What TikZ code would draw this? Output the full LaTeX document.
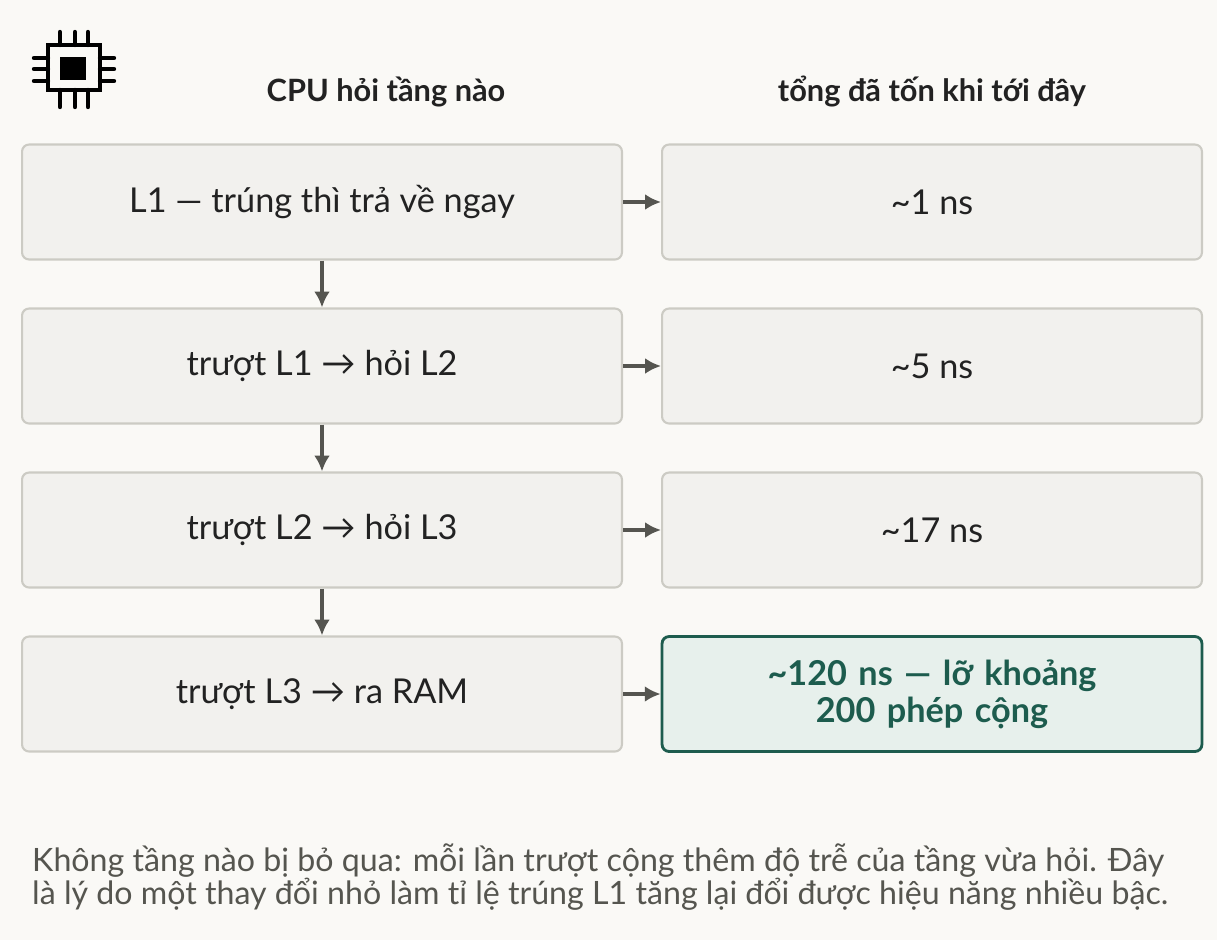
\documentclass[tikz,border=0pt]{standalone}
\usepackage{fontspec}
\setmainfont{Lato}
\usetikzlibrary{positioning,arrows.meta}
\definecolor{bgcol}{HTML}{FAF9F6}
\definecolor{boxfill}{HTML}{F2F1EE}
\definecolor{boxline}{HTML}{CCCBC4}
\definecolor{arrcol}{HTML}{555550}
\definecolor{teal}{HTML}{1D5C4E}
\definecolor{tealfill}{HTML}{E7F0EC}
\definecolor{txtcol}{HTML}{222222}
\definecolor{notecol}{HTML}{55554F}
\tikzset{
  level/.style={draw=boxline, line width=1.2pt, fill=boxfill, rounded corners=4pt,
    minimum width=12cm, minimum height=2.3cm, inner sep=0pt, text=txtcol,
    font=\fontsize{19.5}{23}\selectfont},
  cost/.style={level, minimum width=10.8cm},
  bad/.style={cost, draw=teal, line width=1.6pt, fill=tealfill, text=teal,
    text width=10cm, align=center, font=\fontsize{19.5}{21}\selectfont\bfseries},
  head/.style={font=\fontsize{17.5}{20}\selectfont\bfseries, text=txtcol},
  link/.style={draw=arrcol, line width=1.8pt, -{Latex[length=9pt,width=9pt]}},
  pin/.style={line width=2.5pt, line cap=round}
}
\begin{document}
\begin{tikzpicture}[x=0.02cm,y=-0.02cm]
\fill[bgcol] (0,0) rectangle (1217,940);
% chip icon
\draw[line width=2.5pt] (48,45) rectangle (100,90);
\fill (60,57) rectangle (86,80);
\foreach \p in {60,75,88} {
  \draw[pin] (\p,32) -- (\p,45);
  \draw[pin] (\p,90) -- (\p,107);
}
\foreach \p in {58,69,81} {
  \draw[pin] (34,\p) -- (48,\p);
  \draw[pin] (100,\p) -- (114,\p);
}
% headers
\node[head] (h1) at (386,92) {CPU hỏi tầng nào};
\node[head] (h2) at (932,92) {tổng đã tốn khi tới đây};
% levels
\node[level] (l1) at (322,202) {L1 — trúng thì trả về ngay};
\node[level] (l2) at (322,366) {trượt L1 → hỏi L2};
\node[level] (l3) at (322,530) {trượt L2 → hỏi L3};
\node[level] (l4) at (322,694) {trượt L3 → ra RAM};
\node[cost] (c1) at (932,202) {\textasciitilde1 ns};
\node[cost] (c2) at (932,366) {\textasciitilde5 ns};
\node[cost] (c3) at (932,530) {\textasciitilde17 ns};
\node[bad] (c4) at (932,694) {\textasciitilde120 ns — lỡ khoảng 200 phép cộng};
\draw[link] (l1) -- (l2);
\draw[link] (l2) -- (l3);
\draw[link] (l3) -- (l4);
\foreach \i in {1,2,3,4}
  \draw[link] (l\i) -- (c\i);
% note
\node[anchor=north west, text=notecol, align=left, font=\fontsize{18.3}{18.4}\selectfont]
  (note) at (26,838) {Không tầng nào bị bỏ qua: mỗi lần trượt cộng thêm độ trễ của tầng vừa hỏi. Đây\\
  là lý do một thay đổi nhỏ làm tỉ lệ trúng L1 tăng lại đổi được hiệu năng nhiều bậc.};
\end{tikzpicture}
\end{document}
